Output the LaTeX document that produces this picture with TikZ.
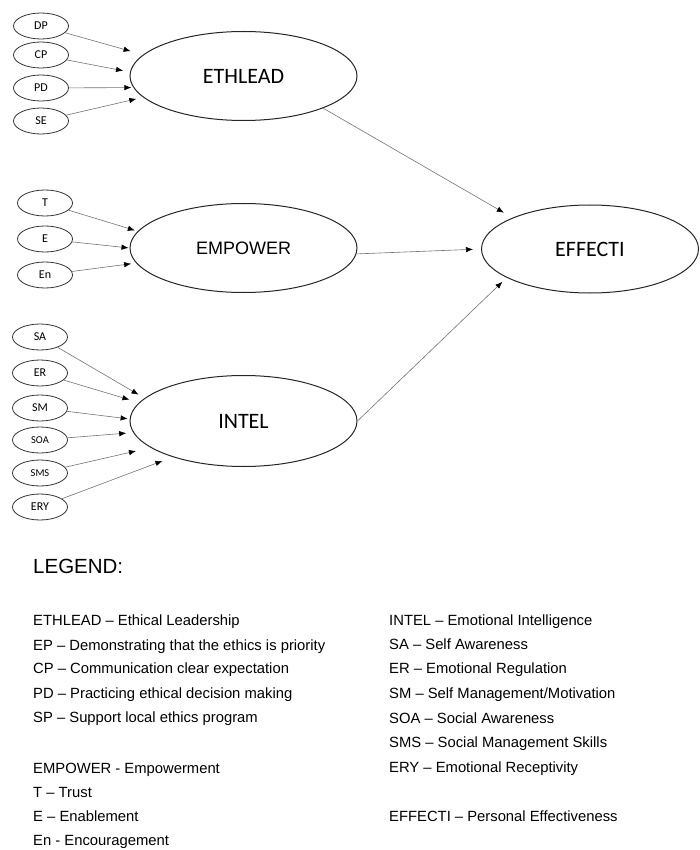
\documentclass[tikz,border=0pt]{standalone}
\usepackage{fontspec}
\setmainfont{Liberation Sans}
\newfontfamily\calibri{Carlito}
\usetikzlibrary{shapes.geometric,arrows.meta}
\tikzset{>=stealth}
\tikzset{
  item/.style={ellipse, draw=black!80, line width=0.8pt, inner sep=0pt,
    minimum width=55pt, minimum height=26pt,
    font=\calibri\fontsize{12}{14}\selectfont},
  factor/.style={ellipse, draw=black!85, line width=1pt, inner sep=0pt,
    minimum width=227pt, minimum height=89pt,
    font=\calibri\fontsize{22}{26}\selectfont},
  path arrow/.style={draw=black!55, line width=0.6pt,
    -{Latex[black,length=7pt,width=5.5pt]}},
  legend/.style={anchor=base west, inner sep=0pt,
    font=\fontsize{14.8}{17}\selectfont}
}

\begin{document}
\begin{tikzpicture}[x=1pt,y=-1pt]
    \useasboundingbox (0,0) rectangle (699,850);
    % latent variables
    \node[factor] (ETHLEAD) at (243.5,76) {ETHLEAD};
    \node[factor, font=\fontsize{18}{22}\selectfont] (EMPOWER) at (243.5,248) {EMPOWER};
    \node[factor, minimum height=91pt] (INTEL) at (243.5,421) {INTEL};
    \node[factor, minimum width=217pt, minimum height=88pt] (EFFECTI) at (590,249) {EFFECTI};
    % indicators
    \node[item] (DP) at (41,26) {DP};
    \node[item] (CP) at (41,55) {CP};
    \node[item] (PD) at (41,88) {PD};
    \node[item] (SE) at (41,121) {SE};
    \node[item] (T) at (45,203) {T};
    \node[item] (E) at (45,239) {E};
    \node[item] (En) at (45,275) {En};
    \node[item] (SA) at (40,337) {SA};
    \node[item] (ER) at (40,373) {ER};
    \node[item] (SM) at (40,408) {SM};
    \node[item, font=\calibri\fontsize{10.5}{12}\selectfont] (SOA) at (40,440) {SOA};
    \node[item, font=\calibri\fontsize{10.5}{12}\selectfont] (SMS) at (40,473) {SMS};
    \node[item] (ERY) at (40,507) {ERY};
    % paths
    \foreach \n/\a/\s in {DP/168.5/13pt, CP/178/7pt, PD/186/2pt, SE/192/7pt}
        \draw[path arrow, shorten >=\s] (\n) -- (ETHLEAD.\a);
    \foreach \n/\a/\s in {T/171/3pt, E/180/1pt, En/188.7/5pt}
        \draw[path arrow, shorten >=\s] (\n) -- (EMPOWER.\a);
    \foreach \n/\a/\s in {SA/167.3/7pt, ER/170.7/10pt, SM/179.5/2pt,
                          SOA/186.9/7pt, SMS/196.9/15pt, ERY/207/11pt}
        \draw[path arrow, shorten >=\s] (\n) -- (INTEL.\a);
    \draw[path arrow, shorten >=10pt] (ETHLEAD.338.6) -- (EFFECTI.158.9);
    \draw[path arrow, shorten >=8pt] (EMPOWER.-3.5) -- (EFFECTI.180);
    \draw[path arrow, shorten >=6pt] (INTEL.east) -- (EFFECTI.199.4);
    % legend
    \node[legend, font=\fontsize{20.5}{24}\selectfont] (LEG) at (33,573) {LEGEND:};
    \node[legend] (l1) at (33,625) {ETHLEAD -- Ethical Leadership};
    \node[legend] (l2) at (33,650) {EP -- Demonstrating that the ethics is priority};
    \node[legend] (l3) at (33,673) {CP -- Communication clear expectation};
    \node[legend] (l4) at (33,698) {PD -- Practicing ethical decision making};
    \node[legend] (l5) at (33,722) {SP -- Support local ethics program};
    \node[legend] (l6) at (33,773) {EMPOWER - Empowerment};
    \node[legend] (l7) at (33,797) {T -- Trust};
    \node[legend] (l8) at (33,821) {E -- Enablement};
    \node[legend] (l9) at (33,845) {En - Encouragement};
    \node[legend] (r1) at (389,625) {INTEL -- Emotional Intelligence};
    \node[legend] (r2) at (389,649) {SA -- Self Awareness};
    \node[legend] (r3) at (389,673) {ER -- Emotional Regulation};
    \node[legend] (r4) at (389,698) {SM -- Self Management/Motivation};
    \node[legend] (r5) at (389,723) {SOA -- Social Awareness};
    \node[legend] (r6) at (389,747) {SMS -- Social Management Skills};
    \node[legend] (r7) at (389,772) {ERY -- Emotional Receptivity};
    \node[legend] (r8) at (389,821) {EFFECTI -- Personal Effectiveness};
\end{tikzpicture}
\end{document}
